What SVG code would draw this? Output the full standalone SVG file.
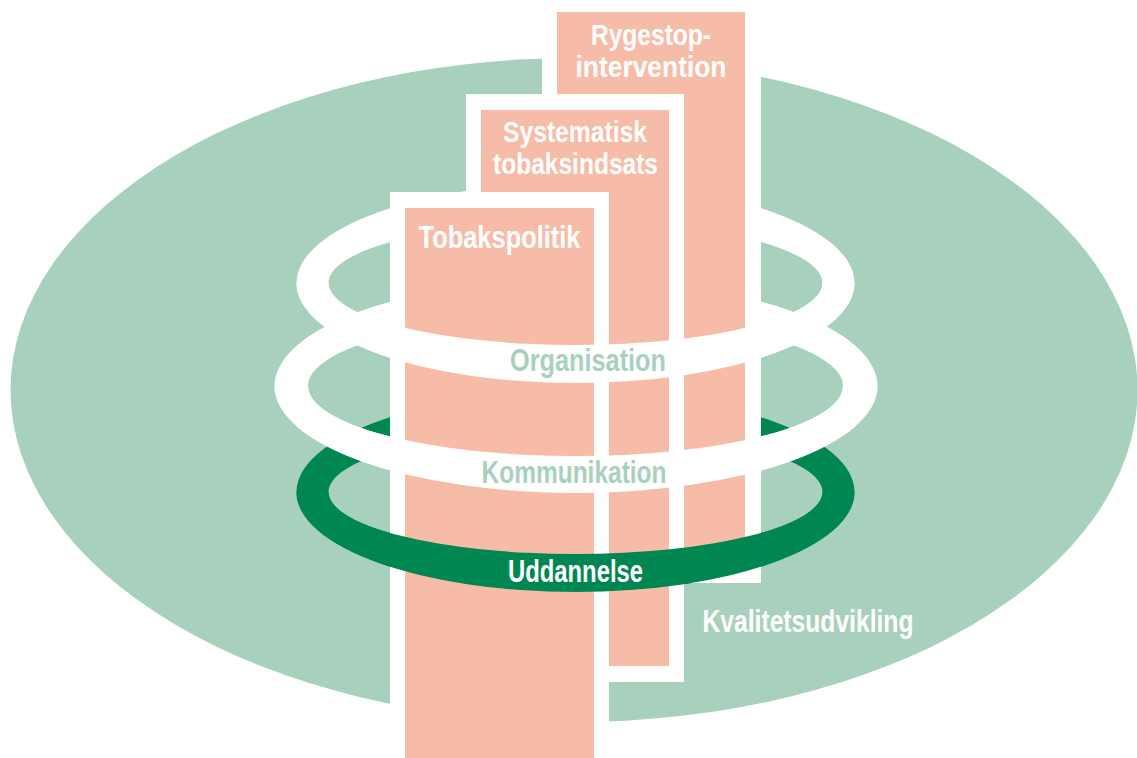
<svg xmlns="http://www.w3.org/2000/svg" width="1137" height="758" viewBox="0 0 1137 758">
  <style>
    .bg { fill: #a8d1bd; }
    .ringW { fill: #ffffff; fill-rule: evenodd; }
    .ringG { fill: #008751; fill-rule: evenodd; }
    .frame { fill: #ffffff; }
    .col { fill: #f7bca7; }
    .lbl { font-family: "Liberation Sans Narrow", "Liberation Sans", Arial, sans-serif; font-weight: bold; font-size: 31px; text-anchor: middle; }
    .two { font-size: 29px; }
    .white { fill: #ffffff; }
    .pale { fill: #a8d1bd; }
  </style>
  <defs>
    <!-- ring shapes: outer ellipse minus inner ellipse -->
    <path id="ringTop" d="M296.5,283 a279,100 0 1,0 558,0 a279,100 0 1,0 -558,0 Z M328.5,283 a247,62 0 1,0 494,0 a247,62 0 1,0 -494,0 Z"/>
    <path id="ringMid" d="M274.5,386 a301.5,107 0 1,0 603,0 a301.5,107 0 1,0 -603,0 Z M308,386 a267.5,70 0 1,0 535,0 a267.5,70 0 1,0 -535,0 Z"/>
    <path id="ringLow" d="M296.5,492 a279,100 0 1,0 558,0 a279,100 0 1,0 -558,0 Z M328.5,492 a247,62 0 1,0 494,0 a247,62 0 1,0 -494,0 Z"/>
    <!-- lower halves pass in front of the columns -->
    <clipPath id="frontTop"><rect x="0" y="283" width="1137" height="200"/></clipPath>
    <clipPath id="frontMid"><rect x="0" y="386" width="1137" height="200"/></clipPath>
    <clipPath id="frontLow"><rect x="0" y="492" width="1137" height="200"/></clipPath>
  </defs>

  <!-- Kvalitetsudvikling: the large base ellipse -->
  <g id="kvalitetsudvikling">
    <ellipse class="bg" cx="574" cy="390" rx="563.5" ry="332"/>
    <text class="lbl white" x="808" y="632" textLength="211" lengthAdjust="spacingAndGlyphs">Kvalitetsudvikling</text>
  </g>

  <!-- rings, back halves (hidden behind the columns) -->
  <g id="rings-back">
    <use href="#ringLow" class="ringG"/>
    <use href="#ringMid" class="ringW"/>
    <use href="#ringTop" class="ringW"/>
  </g>

  <!-- columns, back to front -->
  <g id="rygestop">
    <rect class="frame" x="542" y="-10" width="219" height="593"/>
    <rect class="col" x="557" y="12" width="188" height="556"/>
    <text class="lbl two white" x="651" y="45" textLength="120" lengthAdjust="spacingAndGlyphs">Rygestop-</text>
    <text class="lbl two white" x="651" y="77" textLength="151" lengthAdjust="spacingAndGlyphs">intervention</text>
  </g>
  <g id="systematisk">
    <rect class="frame" x="466" y="94" width="218" height="588"/>
    <rect class="col" x="481" y="110" width="188" height="556"/>
    <text class="lbl two white" x="575" y="142" textLength="144" lengthAdjust="spacingAndGlyphs">Systematisk</text>
    <text class="lbl two white" x="575.5" y="174" textLength="165" lengthAdjust="spacingAndGlyphs">tobaksindsats</text>
  </g>
  <g id="tobakspolitik">
    <rect class="frame" x="390" y="192" width="219" height="580"/>
    <rect class="col" x="405" y="208" width="189" height="564"/>
    <text class="lbl white" x="499.5" y="248" textLength="162" lengthAdjust="spacingAndGlyphs">Tobakspolitik</text>
  </g>

  <!-- rings, front halves with their labels -->
  <g id="connectors">
    <use href="#ringLow" class="ringG" clip-path="url(#frontLow)"/>
    <use href="#ringMid" class="ringW" clip-path="url(#frontMid)"/>
    <use href="#ringTop" class="ringW" clip-path="url(#frontTop)"/>
  </g>
  <g id="organisation">
    <text class="lbl pale" x="588" y="371" textLength="156" lengthAdjust="spacingAndGlyphs">Organisation</text>
  </g>
  <g id="kommunikation">
    <text class="lbl pale" x="574" y="483" textLength="185" lengthAdjust="spacingAndGlyphs">Kommunikation</text>
  </g>
  <g id="uddannelse">
    <text class="lbl white" x="575.5" y="582" textLength="135" lengthAdjust="spacingAndGlyphs">Uddannelse</text>
  </g>
</svg>
